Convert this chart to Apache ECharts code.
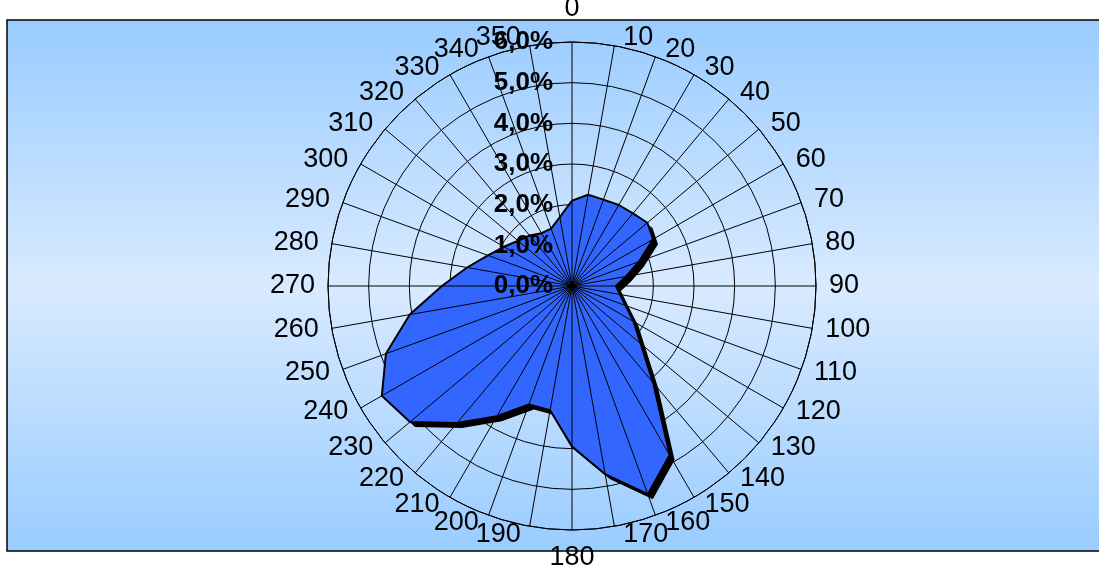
<!DOCTYPE html>
<html>
<head>
<meta charset="utf-8">
<title>Wind direction frequency</title>
<script src="https://cdn.jsdelivr.net/npm/echarts@6/dist/echarts.min.js"></script>
<style>
  html, body { margin: 0; padding: 0; background: #ffffff; }
  #chart { width: 1099px; height: 565px; }
</style>
</head>
<body>
<div id="chart"></div>
<script>
// Direction sectors in degrees (clockwise from north)
const directions = [0, 10, 20, 30, 40, 50, 60, 70, 80, 90, 100, 110,
                    120, 130, 140, 150, 160, 170, 180, 190, 200, 210, 220, 230,
                    240, 250, 260, 270, 280, 290, 300, 310, 320, 330, 340, 350];

// Share of observations per sector, in percent
const frequency = [2.10, 2.28, 2.26, 2.30, 2.33, 2.42, 2.30, 1.75, 1.35, 1.08, 1.20, 1.40,
                   1.75, 2.20, 3.10, 4.80, 5.45, 4.70, 3.95, 3.10, 3.10, 3.70, 4.40, 5.20,
                   5.40, 4.87, 4.05, 3.20, 2.62, 2.20, 1.93, 1.73, 1.62, 1.50, 1.50, 1.72];

// Radial scale (percent)
const radialMin = 0;
const radialMax = 6;
const radialStep = 1;

const pctLabel = v => v.toFixed(1).replace('.', ',') + '%';

// Closed outline: repeat the first sector at 360 degrees
const points = directions.map((d, i) => [frequency[i], d]);
points.push([frequency[0], 360]);

const FONT = 'Liberation Sans, Arial, sans-serif';
const dirFontSize = 27;

// Direction labels sit just outside the rim: beside it on the left and right,
// above / below it at north and south. ECharts anchors each label on the rim
// with its own alignment, so a padded rich-text style per label moves the text
// to where it should sit.
const measure = document.createElement('canvas').getContext('2d');
measure.font = dirFontSize + 'px "Liberation Sans"';
const dirRich = {};
directions.forEach(d => {
  const t = d * Math.PI / 180;
  const s = Math.sin(t), c = Math.cos(t);
  const w = measure.measureText(String(d)).width;
  let dx, dy;
  if (d === 0) { dx = 0; dy = -33; }
  else if (d === 180) { dx = 0; dy = 28; }
  else {
    const gap = 8 + 5 * Math.abs(s);
    dx = Math.sign(s) * (gap + w / 2);
    dy = -8 * c;
  }
  const hAlign = Math.abs(s) < 0.3 ? 'center' : (s > 0 ? 'left' : 'right');
  const vAlign = Math.abs(c) < 0.3 ? 'middle' : (c < 0 ? 'top' : 'bottom');
  let pl = 0, pr = 0, pt = 0, pb = 0;
  if (hAlign === 'left') pl = Math.max(0, dx - w / 2);
  else if (hAlign === 'right') pr = Math.max(0, -dx - w / 2);
  else if (dx >= 0) pl = 2 * dx;
  else pr = -2 * dx;
  const base = vAlign === 'top' ? 1 : (vAlign === 'bottom' ? -1 : 0);
  const diff = 2 * (dy - base);
  if (diff >= 0) pt = diff; else pb = -diff;
  dirRich['a' + d] = {
    fontSize: dirFontSize,
    fontFamily: FONT,
    color: '#000000',
    lineHeight: 2,
    padding: [pt, pr, pb, pl]
  };
});

const chart = echarts.init(document.getElementById('chart'), null, { renderer: 'canvas' });

const center = [572, 286];
const radius = 244;

chart.setOption({
  animation: false,
  backgroundColor: '#ffffff',
  textStyle: { fontFamily: FONT },
  graphic: {
    elements: [{
      type: 'rect',
      z: -10,
      silent: true,
      shape: { x: 7, y: 20, width: 1100, height: 531 },
      style: {
        fill: new echarts.graphic.LinearGradient(0, 0, 0, 1, [
          { offset: 0, color: '#99ccff' },
          { offset: 0.5, color: '#d8eaff' },
          { offset: 1, color: '#99ccff' }
        ]),
        stroke: '#000000',
        lineWidth: 1.5
      }
    }]
  },
  polar: [
    { center: center, radius: radius },
    { center: center, radius: radius }
  ],
  angleAxis: [
    {
      polarIndex: 0,
      type: 'value',
      min: 0,
      max: 360,
      interval: 10,
      startAngle: 90,
      clockwise: true,
      z: 5,
      axisLine: { show: true, lineStyle: { color: '#000000', width: 1 } },
      axisTick: { show: false },
      splitLine: { show: true, lineStyle: { color: '#000000', width: 1 } },
      axisLabel: {
        show: true,
        margin: 0,
        color: '#000000',
        fontSize: dirFontSize,
        fontFamily: FONT,
        formatter: v => (dirRich['a' + v] ? '{a' + v + '|' + v + '}' : ''),
        rich: dirRich
      }
    },
    {
      polarIndex: 1,
      type: 'value',
      min: 0,
      max: 360,
      interval: 10,
      startAngle: 90,
      clockwise: true,
      show: false
    }
  ],
  radiusAxis: [
    {
      polarIndex: 0,
      type: 'value',
      min: radialMin,
      max: radialMax,
      interval: radialStep,
      z: 1,
      axisLine: { show: false },
      axisTick: { show: false },
      axisLabel: { show: false },
      splitLine: { show: true, lineStyle: { color: '#000000', width: 1 } }
    },
    {
      polarIndex: 1,
      type: 'value',
      min: radialMin,
      max: radialMax,
      interval: radialStep,
      z: 10,
      axisLine: { show: false },
      axisTick: { show: false },
      splitLine: { show: false },
      axisLabel: {
        show: true,
        margin: 19,
        color: '#000000',
        fontSize: 26,
        fontWeight: 'bold',
        fontFamily: FONT,
        formatter: v => pctLabel(v)
      }
    }
  ],
  series: [{
    type: 'line',
    coordinateSystem: 'polar',
    polarIndex: 0,
    z: 2,
    data: points,
    showSymbol: false,
    symbol: 'none',
    smooth: false,
    clip: false,
    lineStyle: { color: '#000000', width: 2 },
    areaStyle: {
      color: '#3366ff',
      opacity: 1,
      shadowColor: '#000000',
      shadowBlur: 0,
      shadowOffsetX: 5,
      shadowOffsetY: 5
    }
  }]
});
</script>
</body>
</html>
